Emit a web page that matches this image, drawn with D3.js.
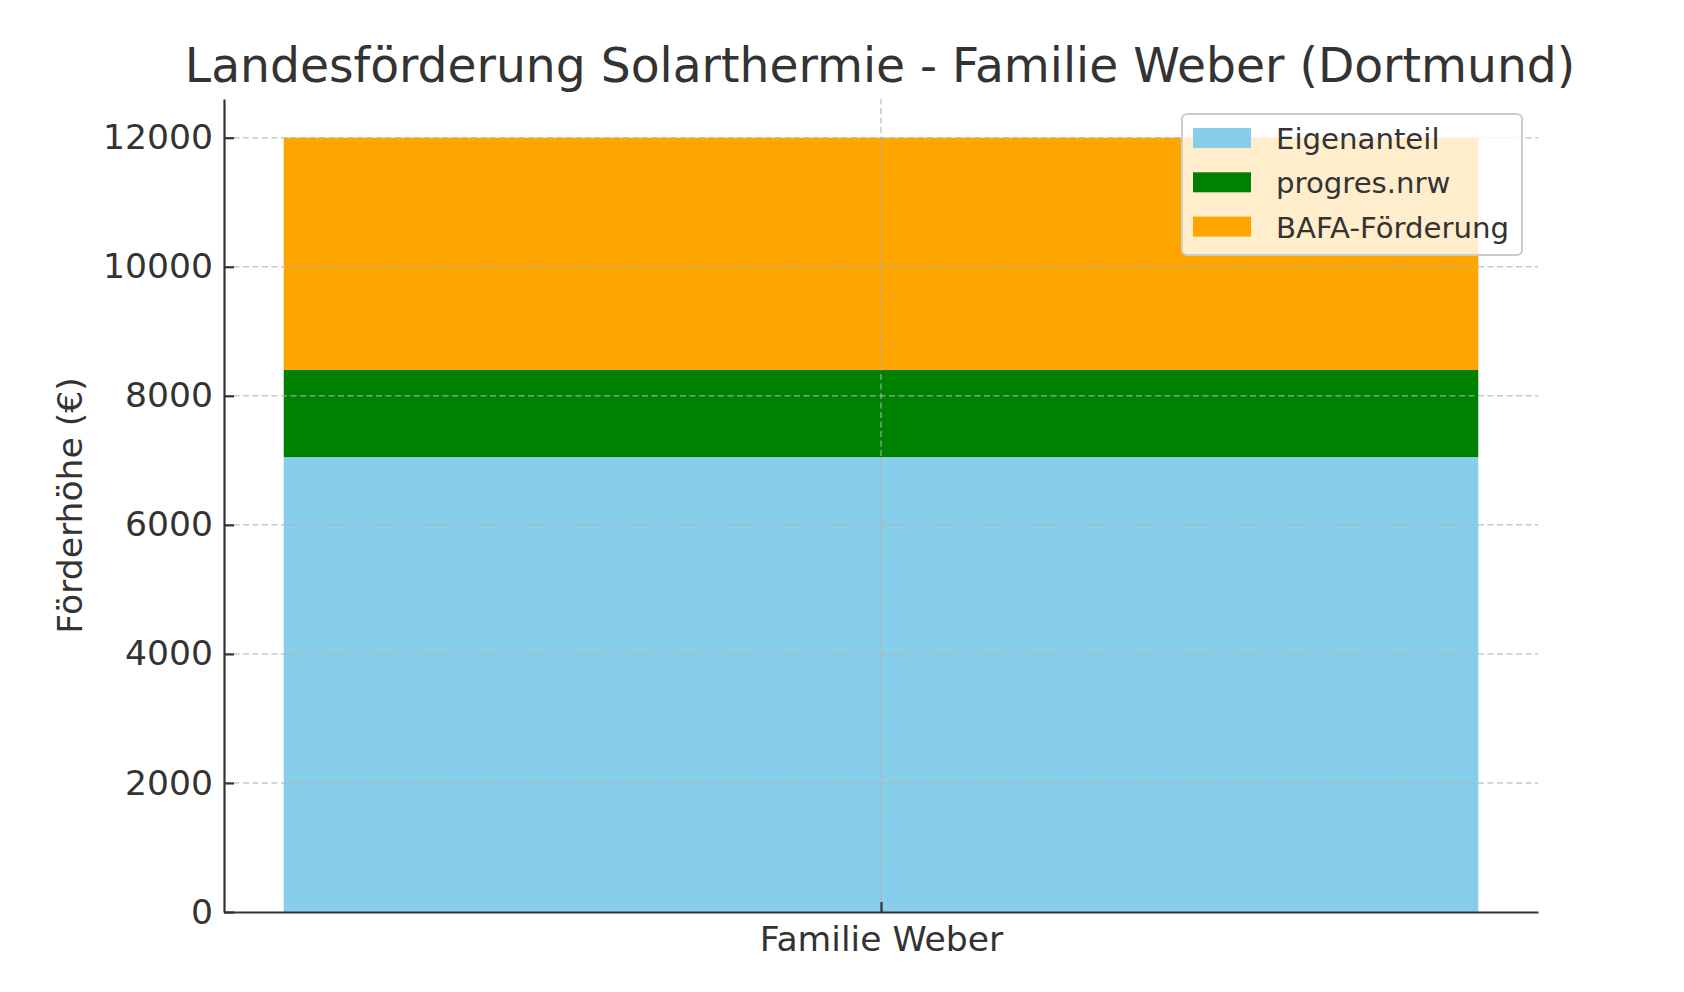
<!DOCTYPE html>
<html>
<head>
<meta charset="utf-8">
<script src="https://cdn.jsdelivr.net/npm/d3@7"></script>
<style>
  body { margin: 0; background: #fff; }
  text { font-family: "DejaVu Sans", sans-serif; fill: #333; }
</style>
</head>
<body>
<svg id="chart" width="1684" height="992"></svg>
<script>
// data
const categories = ["Familie Weber"];
const seriesNames = ["Eigenanteil", "progres.nrw", "BAFA-Förderung"];
const eigenanteil = [7050];
const progresNrw = [1350];
const bafaFoerderung = [3600];
const yTicks = [0, 2000, 4000, 6000, 8000, 10000, 12000];
const colors = ["#87CEEB", "#008000", "#FFA500"];

const width = 1684, height = 992;
const margin = {top: 99, right: 146, bottom: 80, left: 224};

const svg = d3.select("#chart");

const rows = categories.map((c, i) => ({
    cat: c,
    "Eigenanteil": eigenanteil[i],
    "progres.nrw": progresNrw[i],
    "BAFA-Förderung": bafaFoerderung[i]
}));
const stacked = d3.stack().keys(seriesNames)(rows);

// x like matplotlib: bar -0.4..0.4 with 5% margins
const x = d3.scaleLinear()
    .domain([-0.44, categories.length - 1 + 0.44])
    .range([margin.left, width - margin.right]);
const y = d3.scaleLinear()
    .domain([0, 12600])
    .range([height - margin.bottom, margin.top]);

const color = d3.scaleOrdinal().domain(seriesNames).range(colors);

// bars
svg.append("g").selectAll("g")
    .data(stacked)
    .enter().append("g")
    .attr("fill", d => color(d.key))
    .selectAll("rect")
    .data(d => d)
    .enter().append("rect")
    .attr("x", (d, i) => x(i - 0.4))
    .attr("width", (d, i) => x(i + 0.4) - x(i - 0.4))
    .attr("y", d => y(d[1]))
    .attr("height", d => y(d[0]) - y(d[1]));

// grid (drawn above the bars like matplotlib)
const grid = svg.append("g")
    .attr("stroke", "#b0b0b0")
    .attr("stroke-opacity", 0.7)
    .attr("stroke-width", 1.5)
    .attr("stroke-dasharray", "6,3.5");
grid.selectAll("line.h")
    .data(yTicks.filter(t => t > 0))
    .enter().append("line")
    .attr("class", "h")
    .attr("x1", x.range()[0]).attr("x2", x.range()[1])
    .attr("y1", d => y(d)).attr("y2", d => y(d));
grid.selectAll("line.v")
    .data(categories)
    .enter().append("line")
    .attr("class", "v")
    .attr("x1", (d, i) => x(i)).attr("x2", (d, i) => x(i))
    .attr("y1", y.range()[0]).attr("y2", y.range()[1]);

// y axis (inward ticks)
const yAxis = svg.append("g")
    .attr("transform", `translate(${margin.left},0)`)
    .call(d3.axisLeft(y).tickValues(yTicks).tickFormat(d3.format("d"))
        .tickSizeInner(-10).tickSizeOuter(0).tickPadding(11));
yAxis.select(".domain").attr("stroke", "#333").attr("stroke-width", 2.2);
yAxis.selectAll(".tick line").attr("stroke", "#333").attr("stroke-width", 2.2);
yAxis.selectAll(".tick text")
    .attr("font-size", "34.6px")
    .attr("fill", "#333")
    .attr("font-family", "DejaVu Sans, sans-serif");

// x axis
const xAxis = svg.append("g")
    .attr("transform", `translate(0,${height - margin.bottom})`)
    .call(d3.axisBottom(x).tickValues(categories.map((c, i) => i))
        .tickFormat(i => categories[i]).tickSizeInner(-10).tickSizeOuter(0).tickPadding(14));
xAxis.select(".domain").attr("stroke", "#333").attr("stroke-width", 2.2);
xAxis.selectAll(".tick line").attr("stroke", "#333").attr("stroke-width", 2.2);
xAxis.selectAll(".tick text")
    .attr("font-size", "34.6px")
    .attr("fill", "#333")
    .attr("font-family", "DejaVu Sans, sans-serif");

// title
svg.append("text")
    .attr("x", 880)
    .attr("y", 82)
    .attr("text-anchor", "middle")
    .attr("font-size", "47.2px")
    .text("Landesförderung Solarthermie - Familie Weber (Dortmund)");

// y label
svg.append("text")
    .attr("transform", `translate(82,${(y.range()[0] + y.range()[1]) / 2}) rotate(-90)`)
    .attr("text-anchor", "middle")
    .attr("font-size", "34.6px")
    .text("Förderhöhe (€)");

// legend
const legend = svg.append("g");
legend.append("rect")
    .attr("x", 1182).attr("y", 114)
    .attr("width", 340).attr("height", 141)
    .attr("rx", 5)
    .attr("fill", "#fff").attr("fill-opacity", 0.8)
    .attr("stroke", "#ccc").attr("stroke-width", 2);
const items = legend.selectAll("g.item")
    .data(seriesNames)
    .enter().append("g")
    .attr("class", "item")
    .attr("transform", (d, i) => `translate(1193, ${138 + i * 44.3})`);
items.append("rect")
    .attr("x", 0).attr("y", -10)
    .attr("width", 58).attr("height", 20)
    .attr("fill", d => color(d));
items.append("text")
    .attr("x", 83)
    .attr("y", 11)
    .attr("font-size", "29.2px")
    .text(d => d);
</script>
</body>
</html>
